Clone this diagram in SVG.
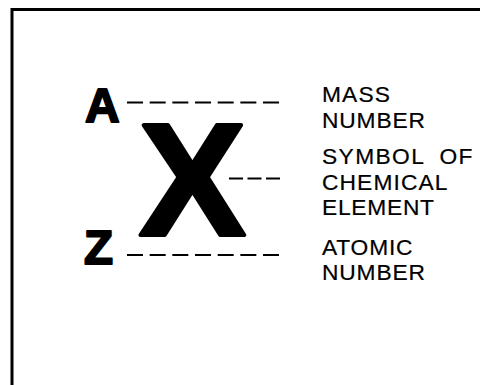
<svg xmlns="http://www.w3.org/2000/svg" width="480" height="385" viewBox="0 0 480 385">
<style>
.big{font-family:"Liberation Sans",Arial,sans-serif;font-weight:bold;fill:#000;stroke:#000;stroke-linejoin:round}
.lbl{font-family:"Liberation Sans",Arial,sans-serif;font-size:21.5px;fill:#000;stroke:#000;stroke-width:0.2}
.dash{stroke:#000;stroke-width:2;fill:none}
</style>
<rect width="480" height="385" fill="#fff"/>
<path d="M12 385 V9.5 H480" fill="none" stroke="#000" stroke-width="3"/>
<g id="symbol">
<text class="big" x="85" y="122" font-size="48" stroke-width="2">A</text>
<text class="big" x="139" y="235" font-size="160" stroke-width="4">X</text>
<text class="big" x="84" y="264" font-size="47.5" stroke-width="2">Z</text>
</g>
<g id="connectors">
<line class="dash" x1="127" y1="102.5" x2="279" y2="102.5" stroke-dasharray="16 6.67"/>
<line class="dash" x1="229" y1="178.5" x2="280" y2="178.5" stroke-dasharray="14 4.5"/>
<line class="dash" x1="127" y1="255" x2="279" y2="255" stroke-dasharray="16 6.67"/>
</g>
<g transform="translate(322 0) scale(1.06 1)">
<g id="mass-label">
<text class="lbl" x="0" y="102" textLength="64.2" lengthAdjust="spacing">MASS</text>
<text class="lbl" x="0" y="128" textLength="97.2" lengthAdjust="spacing">NUMBER</text>
</g>
<g id="symbol-label">
<text class="lbl" x="0" y="164.5" textLength="142" lengthAdjust="spacing" word-spacing="7">SYMBOL OF</text>
<text class="lbl" x="0" y="190" textLength="118.4" lengthAdjust="spacing">CHEMICAL</text>
<text class="lbl" x="0" y="215" textLength="105.7" lengthAdjust="spacing">ELEMENT</text>
</g>
<g id="atomic-label">
<text class="lbl" x="0" y="255" textLength="85.4" lengthAdjust="spacing">ATOMIC</text>
<text class="lbl" x="0" y="280" textLength="97.2" lengthAdjust="spacing">NUMBER</text>
</g>
</g>
</svg>
